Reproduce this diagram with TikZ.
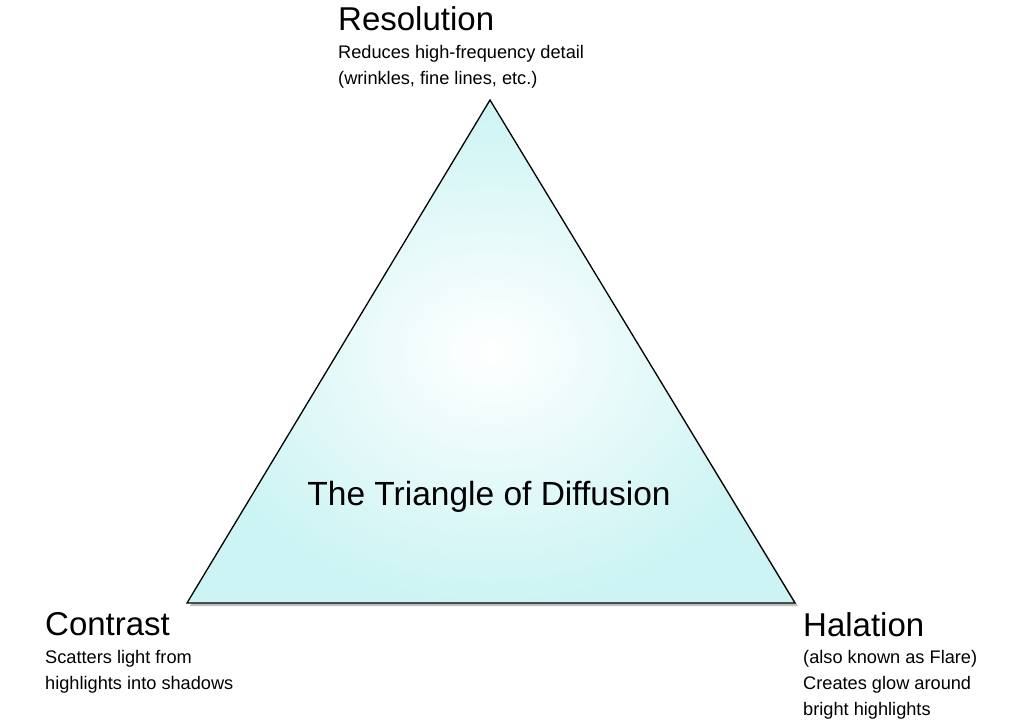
\documentclass[tikz,border=0pt]{standalone}
\usepackage{fontspec}
\setmainfont{Liberation Sans}
\begin{document}
\begin{tikzpicture}[x=1pt,y=-1pt,
  head/.style={anchor=north west,inner sep=0pt,font=\fontsize{33}{36}\selectfont},
  sub/.style={anchor=north west,inner sep=0pt,align=left,font=\fontsize{18.2}{26}\selectfont}]
\useasboundingbox (0,0) rectangle (1024,720);
\fill[black!25] (492,103) -- (190,606) -- (798,606) -- cycle;
\node[coordinate] (A) at (490,100) {};
\node[coordinate] (B) at (187,603) {};
\node[coordinate] (C) at (795,603) {};
\shade[inner color=white,outer color=cyan!30!white!80!teal!45,shading=radial]
  (A) -- (B) -- (C) -- cycle;
\draw[black,line width=1.3pt,line join=miter] (A) -- (B) -- (C) -- cycle;
\node[head] (r) at (338,6) {Resolution};
\node[sub] (rs) at (338,45) {Reduces high-frequency detail\\(wrinkles, fine lines, etc.)};
\node[inner sep=0pt,font=\fontsize{33.5}{36}\selectfont] (t) at (489,497) {The Triangle of Diffusion};
\node[head] (c) at (45,612) {Contrast};
\node[sub] (cs) at (45,650) {Scatters light from\\highlights into shadows};
\node[head] (h) at (803,612) {Halation};
\node[sub] (hs) at (803,650) {(also known as Flare)\\Creates glow around\\bright highlights};
\end{tikzpicture}
\end{document}
